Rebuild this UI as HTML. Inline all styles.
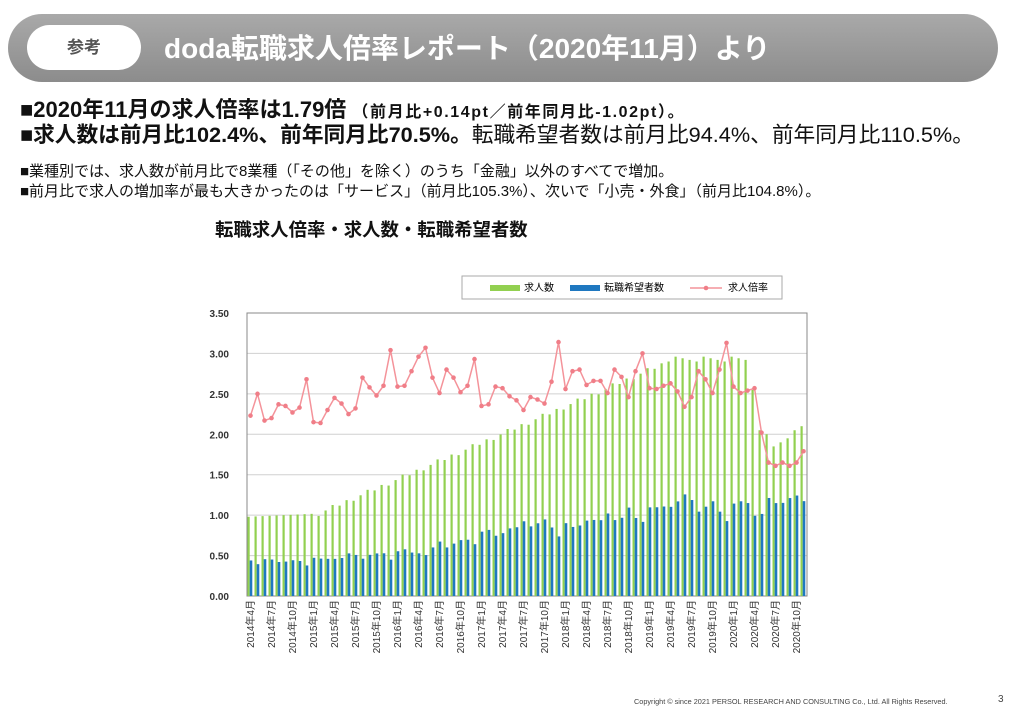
<!DOCTYPE html>
<html><head><meta charset="utf-8"><style>
body{margin:0;width:1024px;height:720px;background:#fff;font-family:"Liberation Sans","Noto Sans CJK JP",sans-serif;position:relative;overflow:hidden}
.hdr{position:absolute;left:8px;top:14px;width:990px;height:68px;border-radius:34px;background:linear-gradient(#a9a9a9,#8c8c8c)}
.pill{position:absolute;left:27px;top:25px;width:114px;height:45px;border-radius:23px;background:#fff;color:#555;font-size:17px;font-weight:bold;text-align:center;line-height:45px}
.ttl{position:absolute;left:164px;top:27px;color:#fff;font-size:28px;font-weight:bold;white-space:nowrap}
.t{position:absolute;white-space:nowrap;color:#111}
</style></head><body>
<div class="hdr"></div><div class="pill">参考</div>
<div class="ttl">doda転職求人倍率レポート（2020年11月）より</div>
<div class="t" style="left:20px;top:92px;font-size:22px;font-weight:bold">■2020年11月の求人倍率は1.79倍 <span style="font-size:16px;letter-spacing:1.6px">（前月比+0.14pt／前年同月比-1.02pt）。</span></div>
<div class="t" style="left:20px;top:118px;font-size:21.7px"><b>■求人数は前月比102.4%、前年同月比70.5%。</b>転職希望者数は前月比94.4%、前年同月比110.5%。</div>
<div class="t" style="left:20px;top:160px;font-size:15px">■業種別では、求人数が前月比で8業種（「その他」を除く）のうち「金融」以外のすべてで増加。</div>
<div class="t" style="left:20px;top:180px;font-size:15px">■前月比で求人の増加率が最も大きかったのは「サービス」（前月比105.3%）、次いで「小売・外食」（前月比104.8%）。</div>
<div class="t" style="left:215px;top:216px;font-size:18.4px;font-weight:bold">転職求人倍率・求人数・転職希望者数</div>
<div class="t" style="left:634px;top:697px;font-size:7.3px;color:#444">Copyright © since 2021 PERSOL RESEARCH AND CONSULTING Co., Ltd. All Rights Reserved.</div>
<div class="t" style="left:998px;top:694px;font-size:10px;color:#444">3</div>
<svg id="c" width="1024" height="720" style="position:absolute;left:0;top:0"></svg>
<script>
var s='',X0=247,X1=807,Y0=596,K=80.86;
var r=[2.23,2.50,2.17,2.20,2.37,2.35,2.27,2.33,2.68,2.15,2.14,2.30,2.45,2.38,2.25,2.32,2.70,2.58,2.48,2.60,3.04,2.59,2.60,2.78,2.96,3.07,2.70,2.51,2.80,2.70,2.52,2.60,2.93,2.35,2.37,2.59,2.57,2.47,2.42,
2.30,2.46,2.43,2.38,2.65,3.14,2.56,2.78,2.80,2.61,2.66,2.66,2.51,2.80,2.71,2.46,2.78,3.0,2.57,2.56,2.60,2.63,2.53,2.34,2.46,2.78,2.68,2.51,2.80,3.13,2.59,2.51,2.54,2.57,2.02,1.65,1.61,1.65,1.61,1.65,1.79];
var g=[];for(var i=0;i<80;i++){var v;if(i<10)v=0.98+i*0.004;else if(i<60)v=1.02+(i-10)*1.88/50+((i*7)%5-2)*0.015;else if(i<72)v=2.9+((i*3)%4)*0.02;else v=[2.55,2.05,2.0,1.85,1.9,1.95,2.05,2.1][i-72];g.push(v);}
for(var k=0;k<=7;k++){var y=Y0-k*0.5*K;s+='<line x1="'+X0+'" x2="'+X1+'" y1="'+y+'" y2="'+y+'" stroke="#d0d0d0"/><text x="229" y="'+(y+4)+'" font-size="10" text-anchor="end" font-weight="bold" fill="#333">'+(k*0.5).toFixed(2)+'</text>';}
s+='<rect x="'+X0+'" y="313" width="'+(X1-X0)+'" height="283" fill="none" stroke="#888"/>';
var st=(X1-X0)/80,pts=[];
for(i=0;i<80;i++){var x=X0+i*st;var b=g[i]/r[i];
s+='<rect x="'+(x+0.5)+'" y="'+(Y0-g[i]*K)+'" width="2.2" height="'+g[i]*K+'" fill="#92d050"/>';
s+='<rect x="'+(x+2.7)+'" y="'+(Y0-b*K)+'" width="2.6" height="'+b*K+'" fill="#1f78c0"/>';
pts.push((x+3.5)+','+(Y0-r[i]*K));
if(i%3==0){var m=(i+3)%12+1,yr=2014+Math.floor((i+3)/12);s+='<text transform="translate('+(x+7)+',600) rotate(-90)" font-size="10" text-anchor="end" fill="#333">'+yr+'年'+m+'月</text>';}}
s+='<polyline points="'+pts.join(' ')+'" fill="none" stroke="#f4939a" stroke-width="1.5"/>';
pts.forEach(function(p){var a=p.split(',');s+='<circle cx="'+a[0]+'" cy="'+a[1]+'" r="2.3" fill="#f07e88"/>';});
s+='<rect x="462" y="276" width="320" height="23" fill="#fff" stroke="#aaa"/>';
s+='<rect x="490" y="285" width="30" height="6" fill="#92d050"/><text x="524" y="291" font-size="10">求人数</text>';
s+='<rect x="570" y="285" width="30" height="6" fill="#1f78c0"/><text x="604" y="291" font-size="10">転職希望者数</text>';
s+='<line x1="690" x2="722" y1="288" y2="288" stroke="#f4939a" stroke-width="1.5"/><circle cx="706" cy="288" r="2.3" fill="#f07e88"/><text x="728" y="291" font-size="10">求人倍率</text>';
document.getElementById('c').innerHTML=s;
</script>
</body></html>
